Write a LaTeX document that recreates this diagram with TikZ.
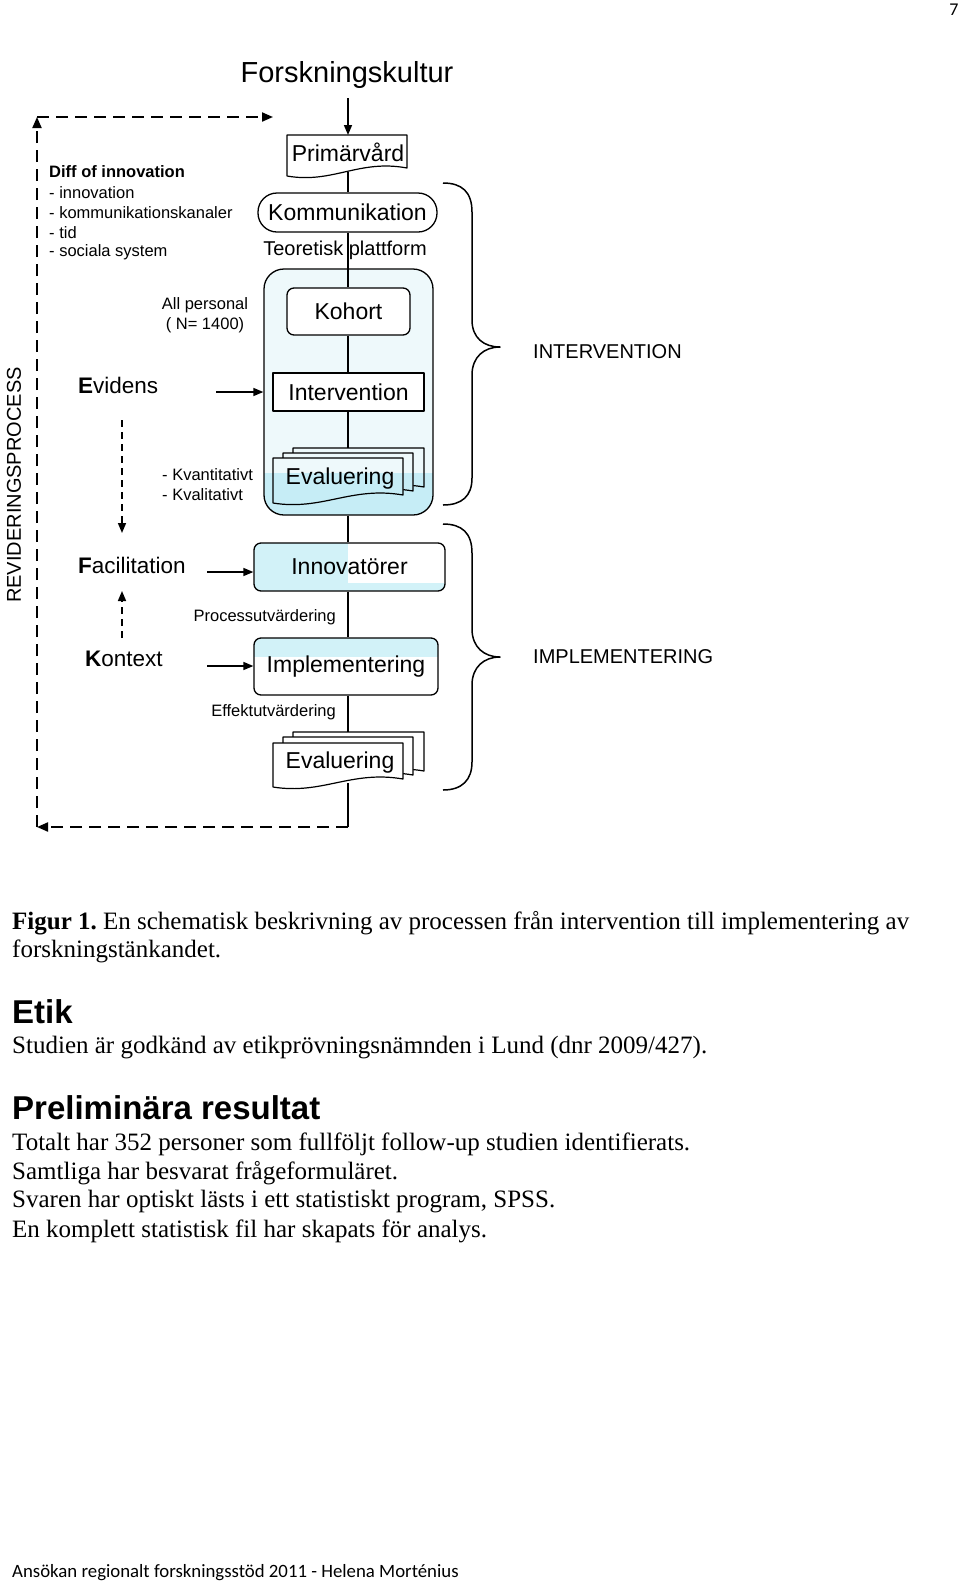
\documentclass[tikz,border=0pt]{standalone}
\usepackage{fontspec}
\setmainfont{Liberation Serif}
\setsansfont{Liberation Sans}
\renewcommand{\familydefault}{\sfdefault}
\newfontfamily\calibfont{Carlito}
\usetikzlibrary{arrows.meta}
\newcommand\fsz[1]{\fontsize{#1}{#1}\selectfont}
\definecolor{contTop}{RGB}{238,249,251}
\definecolor{contBot}{RGB}{198,237,246}
\definecolor{boxCyan}{RGB}{210,242,248}
\newcommand\docpath[5]{\path[#5] (#1,#3) -- (#2,#3) -- (#2,#4-8) .. controls ({#1+0.6*(#2-#1)},#4-17) and ({#1+0.38*(#2-#1)},#4+8) .. (#1,#4) -- cycle;}
\newcommand\cdoc[4]{\docpath{#1}{#2}{#3}{#4}{fill=contTop}\begin{scope}\docpath{#1}{#2}{#3}{#4}{clip}\fill[contBot] (250,473) rectangle (440,520);\end{scope}\docpath{#1}{#2}{#3}{#4}{draw,line width=1.2}}
\newcommand\wdoc[4]{\docpath{#1}{#2}{#3}{#4}{fill=white,draw,line width=1.2}}
\begin{document}
\begin{tikzpicture}[x=1pt,y=-1pt,font=\sffamily,line join=round,
 conn/.style={line width=1.3},
 arr/.style={line width=1.5,-{Triangle[length=10pt,width=8pt]}},
 dsh/.style={line width=2,dash pattern=on 12pt off 7pt,-{Triangle[length=11pt,width=9pt]}},
 dsharr/.style={line width=1.6,dash pattern=on 7pt off 5pt,-{Triangle[length=10pt,width=8pt]}},
 brace/.style={line width=1.5},
 box/.style={draw,line width=1.3,inner sep=0pt,font=\sffamily\fsz{23}},
 lbl/.style={inner sep=0pt,font=\sffamily\fsz{16.5}},
 big/.style={inner sep=0pt,font=\sffamily\fsz{22.5}},
 body/.style={anchor=base west,inner sep=0pt,font=\rmfamily\fsz{25}}]

\fill[white] (0,0) rectangle (960,1583);
\useasboundingbox (0,0) rectangle (960,1583);

% container
\begin{scope}
\clip[rounded corners=20pt] (264,269) rectangle (433,515);
\fill[contTop] (264,269) rectangle (433,473);
\fill[contBot] (264,473) rectangle (433,515);
\end{scope}
\node[draw,line width=1.3,rounded corners=20pt,minimum width=169pt,minimum height=246pt,inner sep=0pt] (cont) at (348.5,392) {};

% Innovatoerer fill
\begin{scope}
\clip[rounded corners=7pt] (254,543) rectangle (445,591);
\fill[white] (254,543) rectangle (445,591);
\fill[boxCyan] (254,543) rectangle (348,591);
\fill[boxCyan] (348,583) rectangle (445,591);
\end{scope}
\node[box,rounded corners=7pt,minimum width=191pt,minimum height=48pt] (innov) at (349.5,567) {Innovatörer};

% Implementering fill
\begin{scope}
\clip[rounded corners=7pt] (254,638) rectangle (438,695);
\fill[white] (254,638) rectangle (438,695);
\fill[boxCyan] (254,638) rectangle (438,657);
\end{scope}
\node[box,rounded corners=7pt,minimum width=184pt,minimum height=57pt] (impl) at (346,666.5) {Implementering};

% other boxes
\node[box,fill=white,rounded corners=7pt,minimum width=123pt,minimum height=47pt] (kohort) at (348.5,311.5) {Kohort};
\node[box,fill=white,minimum width=151pt,minimum height=38pt] (interv) at (348.5,392) {Intervention};
\node[box,fill=white,rounded corners=19pt,minimum width=179pt,minimum height=39pt] (komm) at (347.5,212.5) {Kommunikation};

% Primaervaard document
\wdoc{287}{407}{135}{176}
\node[inner sep=0pt,font=\sffamily\fsz{23}] (prim) at (348,152) {Primärvård};

% Evaluering 1
\cdoc{293}{424}{448}{495}
\cdoc{283}{413}{453}{499}
\cdoc{273}{403}{458}{503}
\node[inner sep=0pt,font=\sffamily\fsz{23}] (eval1) at (340,479) {Evaluering};

% Evaluering 2
\wdoc{293}{424}{732}{779}
\wdoc{283}{413}{737}{783}
\wdoc{273}{403}{743}{787}
\node[inner sep=0pt,font=\sffamily\fsz{23}] (eval2) at (340,763) {Evaluering};

% title
\node[inner sep=0pt,font=\sffamily\fsz{29}] (title) at (347,75) {Forskningskultur};

% coordinates
\coordinate (titlearr) at (348,98);
\coordinate (primtop) at (348,135);
\coordinate (primbot) at (348,172);
\coordinate (ev1top) at (348,448);
\coordinate (ev2top) at (348,732);
\coordinate (ev2bot) at (348,783);
\coordinate (rb) at (348,827);
\coordinate (lb) at (37,827);
\coordinate (lt) at (37,117);
\coordinate (rt) at (273,117);

% spine connectors
\draw[arr] (titlearr) -- (primtop);
\draw[conn] (primbot) -- (komm.north -| primbot);
\draw[conn] (komm.south -| primbot) -- (kohort.north -| primbot);
\draw[conn] (kohort.south -| primbot) -- (interv.north -| primbot);
\draw[conn] (interv.south -| primbot) -- (ev1top);
\draw[conn] (cont.south -| primbot) -- (innov.north -| primbot);
\draw[conn] (innov.south -| primbot) -- (impl.north -| primbot);
\draw[conn] (impl.south -| primbot) -- (ev2top);
\draw[conn] (ev2bot) -- (rb);
\draw[dsh] (rb) -- (lb);
\draw[dsh] (lb) -- (lt);
\draw[dsh] (lt) -- (rt);

\node[inner sep=0pt,font=\sffamily\fsz{20}] (teor) at (345,250) {Teoretisk plattform};

% left side
\node[big,anchor=west] (evid) at (78,385) {\textbf{E}videns};
\node[big,anchor=west] (facil) at (78,565) {\textbf{F}acilitation};
\node[big,anchor=west] (kont) at (85,659) {\textbf{K}ontext};
\coordinate (evarr) at (216,392);
\coordinate (faarr) at (207,572);
\coordinate (koarr) at (207,666);
\draw[arr] (evarr) -- (cont.west |- evarr);
\draw[arr] (faarr) -- (innov.west |- faarr);
\draw[arr] (koarr) -- (impl.west |- koarr);
\coordinate (evd1) at (122,420);
\coordinate (evd2) at (122,533);
\coordinate (kod1) at (122,638);
\coordinate (kod2) at (122,591);
\draw[dsharr] (evd1) -- (evd2);
\draw[dsharr] (kod1) -- (kod2);

\node[lbl] (allp) at (205,305) {All personal};
\node[lbl] (npers) at (205,325) {( N= 1400)};
\node[lbl,anchor=west] (kvant) at (162,475) {- Kvantitativt};
\node[lbl,anchor=west] (kval) at (162,495) {- Kvalitativt};
\node[lbl,anchor=west] (diff) at (49,172) {\textbf{Diff of innovation}};
\node[lbl,anchor=west] (d1) at (49,193) {- innovation};
\node[lbl,anchor=west] (d2) at (49,213) {- kommunikationskanaler};
\node[lbl,anchor=west] (d3) at (49,233) {- tid};
\node[lbl,anchor=west] (d4) at (49,252) {- sociala system};
\node[lbl,anchor=east] (proc) at (336,617) {Processutvärdering};
\node[lbl,anchor=east] (eff) at (336,712) {Effektutvärdering};
\node[inner sep=0pt,font=\sffamily\fsz{20},rotate=90] (revid) at (14,485) {REVIDERINGSPROCESS};

% braces
\draw[brace] (443,183) .. controls (462,183) and (472,192) .. (472,212) -- (472,320) .. controls (472,338) and (484,347) .. (500,347) .. controls (484,347) and (472,357) .. (472,375) -- (472,478) .. controls (472,496) and (462,505) .. (443,505);
\draw[brace] (443,524) .. controls (462,524) and (472,533) .. (472,553) -- (472,629) .. controls (472,647) and (484,657) .. (500,657) .. controls (484,657) and (472,667) .. (472,685) -- (472,762) .. controls (472,780) and (462,790) .. (443,790);
\node[inner sep=0pt,font=\sffamily\fsz{20},anchor=west] (intlab) at (533,352) {INTERVENTION};
\node[inner sep=0pt,font=\sffamily\fsz{20},anchor=west] (implab) at (533,657) {IMPLEMENTERING};

% body text
\node[body] (cap1) at (12,929) {\textbf{Figur 1.}\ En schematisk beskrivning av processen från intervention till implementering av};
\node[body] (cap2) at (12,957) {forskningstänkandet.};
\node[anchor=base west,inner sep=0pt,font=\sffamily\bfseries\fsz{33}] (etik) at (12,1023) {Etik};
\node[body] (stud) at (12,1053) {Studien är godkänd av etikprövningsnämnden i Lund (dnr 2009/427).};
\node[anchor=base west,inner sep=0pt,font=\sffamily\bfseries\fsz{33}] (prel) at (12,1119) {Preliminära resultat};
\node[body] (r1) at (12,1150) {Totalt har 352 personer som fullföljt follow-up studien identifierats.};
\node[body] (r2) at (12,1179) {Samtliga har besvarat frågeformuläret.};
\node[body] (r3) at (12,1207) {Svaren har optiskt lästs i ett statistiskt program, SPSS.};
\node[body] (r4) at (12,1237) {En komplett statistisk fil har skapats för analys.};

\node[anchor=base west,inner sep=0pt,font=\calibfont\fsz{18.8}] (foot) at (12,1577) {Ansökan regionalt forskningsstöd 2011 - Helena Morténius};
\node[anchor=base,inner sep=0pt,font=\calibfont\fsz{18}] (pnum) at (954,15) {7};
\end{tikzpicture}
\end{document}
